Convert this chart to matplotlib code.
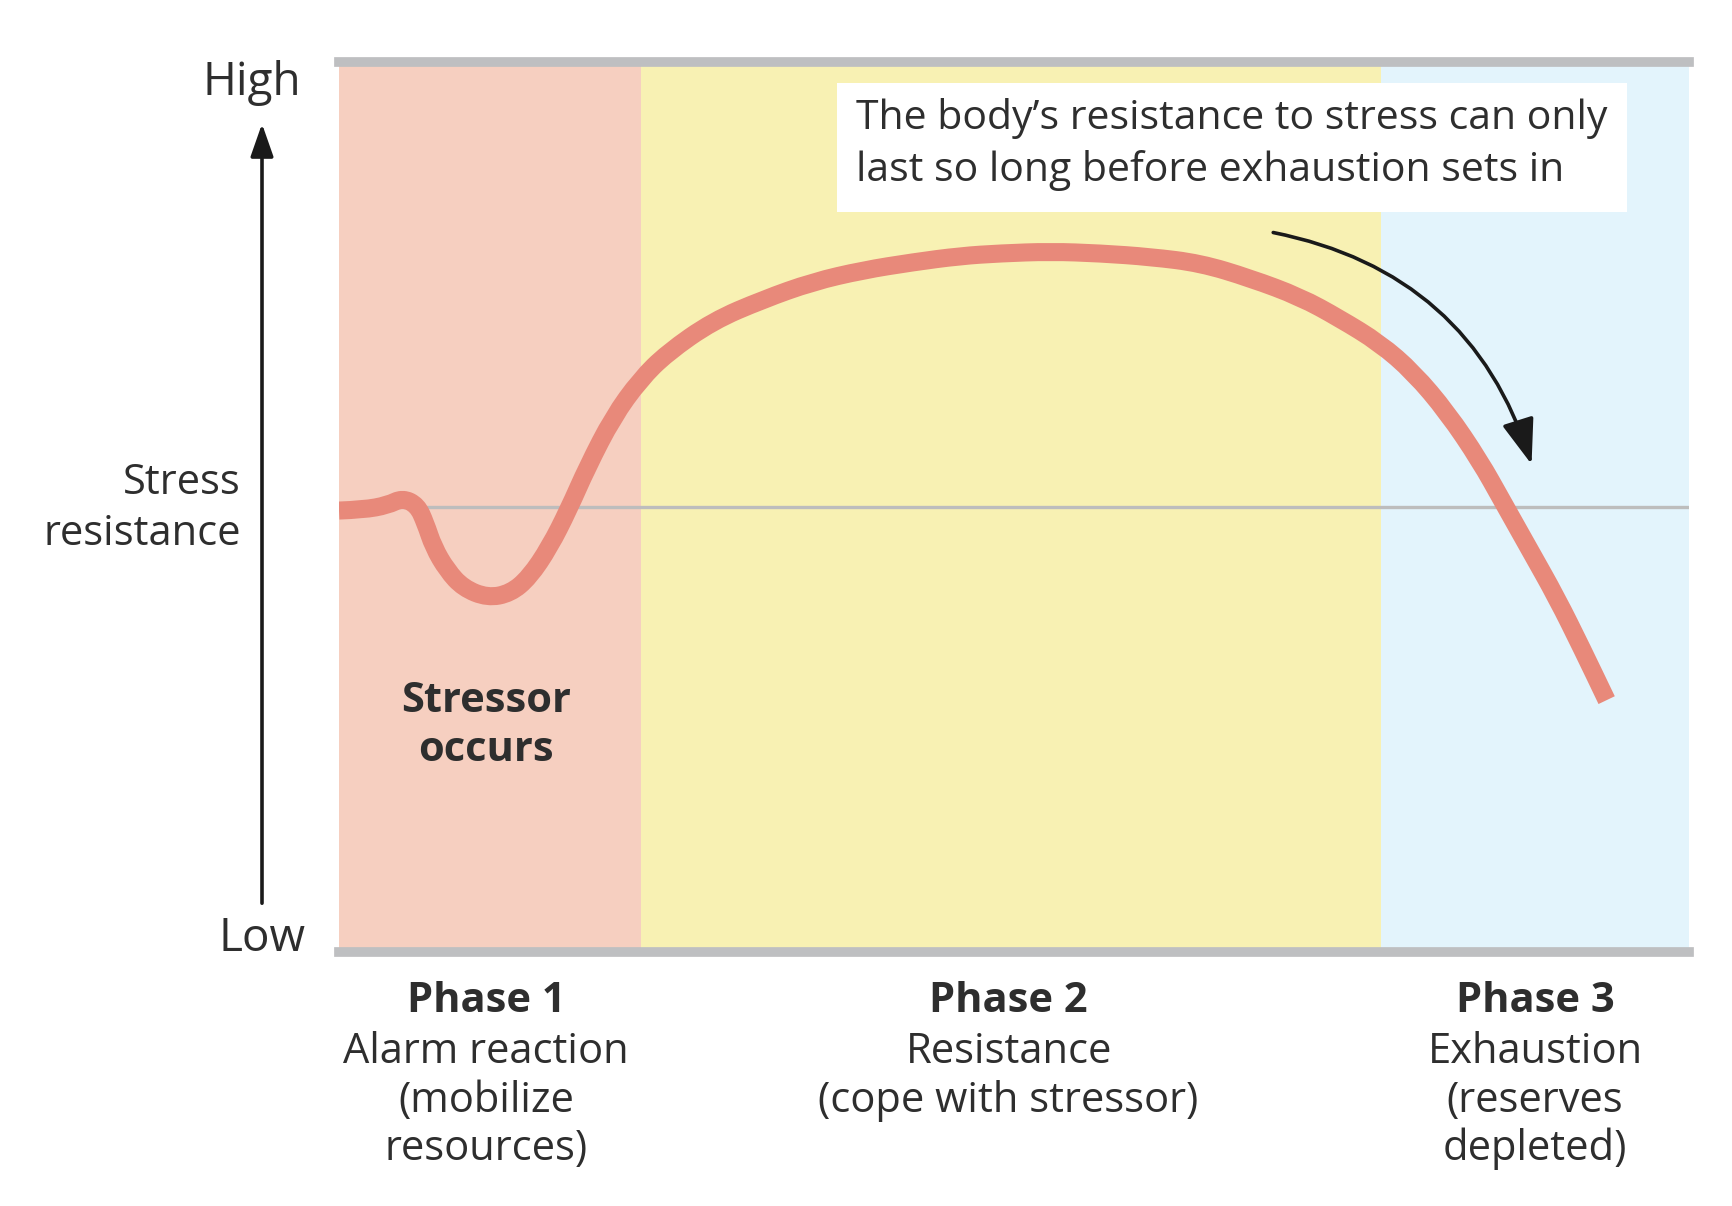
"""
General adaptation syndrome: stress resistance across the three phases
"""
import matplotlib
matplotlib.use("Agg")
import matplotlib.pyplot as plt
from matplotlib.patches import Rectangle, FancyArrowPatch, PathPatch
from matplotlib.path import Path

# phase boundaries on a 0-100 time scale
phase_edges = [0, 22.4, 77.2, 100]
phase_colors = ["#F6CFC0", "#F8F1B3", "#E3F4FC"]

# stress resistance curve (0 = low, 100 = high)
curve_x = [0, 1.8, 3.6, 4.7, 5.8, 6.4, 7.0, 8.0, 9.2, 11.0, 12.7, 14.1, 15.6,
           17.0, 18.4, 20.3, 22.3, 24.3, 27.7, 31.4, 35.1, 38.8, 42.5,
           46.0, 49.0, 52.7, 56.4, 60.1, 63.8, 67.5, 71.2, 74.1, 77.1, 79.6,
           82.1, 84.5, 86.2, 88.2, 90.2, 92.1, 93.9]
curve_y = [49.6, 49.7, 50.2, 51.0, 50.2, 48.2, 45.5, 42.9, 40.9, 39.8, 40.3, 42.1, 45.5,
           49.7, 54.5, 60.1, 64.3, 67.3, 70.9, 73.3, 75.3, 76.6, 77.5,
           78.2, 78.5, 78.7, 78.5, 78.1, 77.4, 75.7, 73.6, 71.2, 68.4, 65.1,
           60.6, 55.2, 50.6, 45.2, 39.8, 34.0, 28.3]
normal_level = 50

phase_titles = ["Phase 1", "Phase 2", "Phase 3"]
phase_desc = [["Alarm reaction", "(mobilize", "resources)"],
              ["Resistance", "(cope with stressor)"],
              ["Exhaustion", "(reserves", "depleted)"]]
phase_label_x = [10.9, 49.6, 88.6]

note_lines = ["The body\u2019s resistance to stress can only",
              "last so long before exhaustion sets in"]

W, H = 1732, 1206
TXT = "#2e2e2e"
FS = 30
plt.rcParams["font.family"] = ["Open Sans", "DejaVu Sans"]


def fig_xy(px, py):
    # pixel position (from top-left) -> figure fraction
    return px / W, 1 - py / H


def smooth_path(xs, ys):
    # quadratic bezier chain: read points act as control points, midpoints lie on the curve
    pts = list(zip(xs, ys))
    verts, codes = [pts[0]], [Path.MOVETO]
    for i in range(1, len(pts) - 1):
        mid = ((pts[i][0] + pts[i + 1][0]) / 2, (pts[i][1] + pts[i + 1][1]) / 2)
        verts += [pts[i], mid]
        codes += [Path.CURVE3, Path.CURVE3]
    verts.append(pts[-1])
    codes.append(Path.LINETO)
    return Path(verts, codes)


fig = plt.figure(figsize=(W / 100, H / 100), dpi=100)
ax = fig.add_axes([339 / W, 1 - 952 / H, 1350 / W, 890 / H])
ax.set_xlim(0, 100)
ax.set_ylim(0, 100)
ax.set_xticks([])
ax.set_yticks([])
for side in ["left", "right"]:
    ax.spines[side].set_visible(False)
for side in ["top", "bottom"]:
    ax.spines[side].set_color("#BEBFC1")
    ax.spines[side].set_linewidth(7)
    ax.spines[side].set_zorder(5)

for i in range(3):
    ax.axvspan(phase_edges[i], phase_edges[i + 1], color=phase_colors[i], lw=0, zorder=0)

ax.axhline(normal_level, color="#BDBDBD", lw=2.4, zorder=1)
ax.add_patch(PathPatch(smooth_path(curve_x, curve_y), facecolor="none", edgecolor="#E8897A",
                       lw=13, capstyle="butt", joinstyle="round", zorder=3))

# callout box
ax.add_patch(Rectangle((36.9, 83.1), 58.5, 14.5, facecolor="white", edgecolor="none", zorder=4))
ax.text(38.3, 93.6, note_lines[0], fontsize=29.5, color=TXT, va="center", ha="left", zorder=6)
ax.text(38.3, 87.8, note_lines[1], fontsize=29.5, color=TXT, va="center", ha="left", zorder=6)

arrow = FancyArrowPatch((69.0, 80.9), (88.4, 54.5), connectionstyle="arc3,rad=-0.3",
                        arrowstyle="-|>,head_length=1.4,head_width=0.5", mutation_scale=20,
                        color="#1a1a1a", lw=2.6, zorder=6)
ax.add_patch(arrow)

ax.text(10.9, 28.2, "Stressor", fontsize=FS, fontweight="bold", color=TXT,
        ha="center", va="center", zorder=6)
ax.text(10.9, 22.6, "occurs", fontsize=FS, fontweight="bold", color=TXT,
        ha="center", va="center", zorder=6)

# y axis arrow and labels
fig.patches.append(FancyArrowPatch(fig_xy(262, 906), fig_xy(262, 121), transform=fig.transFigure,
                                   arrowstyle="-|>,head_length=1.0,head_width=0.35",
                                   mutation_scale=20, color="#1a1a1a", lw=2.6))
fig.text(*fig_xy(252, 83), "High", fontsize=33, color=TXT, ha="center", va="center")
fig.text(*fig_xy(262, 939), "Low", fontsize=33, color=TXT, ha="center", va="center")
fig.text(*fig_xy(241, 483), "Stress", fontsize=FS, color=TXT, ha="right", va="center")
fig.text(*fig_xy(241, 534), "resistance", fontsize=FS, color=TXT, ha="right", va="center")

# phase captions below the plot
line_y = [1002, 1052, 1101, 1149]
for i in range(3):
    px = 339 + phase_label_x[i] * 13.5
    fig.text(*fig_xy(px, line_y[0]), phase_titles[i], fontsize=FS, fontweight="bold",
             color=TXT, ha="center", va="center")
    for j, line in enumerate(phase_desc[i]):
        fig.text(*fig_xy(px, line_y[j + 1]), line, fontsize=FS, color=TXT,
                 ha="center", va="center")

fig.savefig("out.png", dpi=100)
